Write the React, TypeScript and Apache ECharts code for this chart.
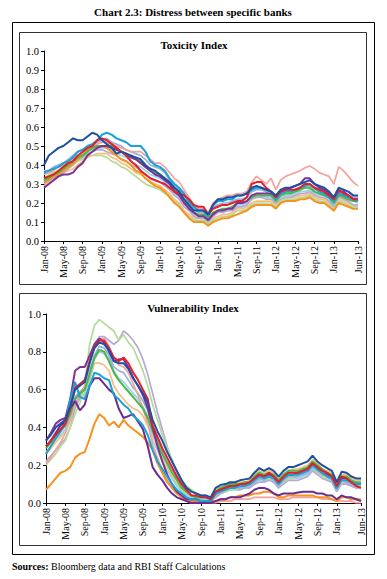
import React, { useEffect, useRef } from 'react';
import * as echarts from 'echarts';

const MONTHS = ['Jan', 'Feb', 'Mar', 'Apr', 'May', 'Jun', 'Jul', 'Aug', 'Sep', 'Oct', 'Nov', 'Dec'];
const YEARS = ['08', '09', '10', '11', '12', '13'];
const categories: string[] = YEARS.flatMap((y) => MONTHS.map((m) => `${m}-${y}`)).slice(0, 66);

const Y_TICKS_TOP = [0, 0.1, 0.2, 0.3, 0.4, 0.5, 0.6, 0.7, 0.8, 0.9, 1.0];
const Y_TICKS_BOTTOM = [0, 0.2, 0.4, 0.6, 0.8, 1.0];

// ---------- Toxicity Index ----------
const toxDarkBlue = [
  0.40, 0.45, 0.47, 0.49, 0.50, 0.52, 0.54, 0.53, 0.53, 0.55,
  0.57, 0.56, 0.53, 0.51, 0.49, 0.46, 0.47, 0.46, 0.45, 0.44,
  0.43, 0.40, 0.38, 0.37, 0.35, 0.33, 0.31, 0.28, 0.26, 0.22,
  0.19, 0.16, 0.16, 0.16, 0.14, 0.19, 0.22, 0.22, 0.23, 0.23,
  0.24, 0.24, 0.25, 0.28, 0.29, 0.28, 0.27, 0.26, 0.24, 0.27,
  0.28, 0.28, 0.29, 0.30, 0.31, 0.32, 0.30, 0.29, 0.28, 0.26,
  0.23, 0.28, 0.27, 0.26, 0.24, 0.24,
];
const toxRed = [
  0.33, 0.34, 0.35, 0.37, 0.39, 0.41, 0.42, 0.45, 0.47, 0.49,
  0.50, 0.53, 0.54, 0.53, 0.51, 0.49, 0.47, 0.45, 0.42, 0.40,
  0.37, 0.35, 0.33, 0.32, 0.31, 0.30, 0.28, 0.26, 0.25, 0.24,
  0.22, 0.19, 0.18, 0.18, 0.14, 0.17, 0.18, 0.19, 0.19, 0.20,
  0.21, 0.21, 0.23, 0.30, 0.31, 0.31, 0.28, 0.26, 0.23, 0.26,
  0.27, 0.27, 0.27, 0.28, 0.30, 0.30, 0.28, 0.27, 0.26, 0.24,
  0.22, 0.27, 0.25, 0.24, 0.22, 0.22,
];
const toxCyan = [
  0.36, 0.37, 0.38, 0.39, 0.41, 0.42, 0.44, 0.47, 0.48, 0.50,
  0.51, 0.53, 0.56, 0.57, 0.56, 0.54, 0.53, 0.52, 0.50, 0.50,
  0.50, 0.47, 0.42, 0.40, 0.39, 0.37, 0.33, 0.30, 0.28, 0.25,
  0.21, 0.18, 0.16, 0.16, 0.13, 0.19, 0.21, 0.21, 0.22, 0.22,
  0.24, 0.24, 0.25, 0.27, 0.28, 0.28, 0.27, 0.26, 0.22, 0.25,
  0.26, 0.26, 0.27, 0.28, 0.29, 0.30, 0.28, 0.26, 0.25, 0.23,
  0.21, 0.25, 0.24, 0.23, 0.22, 0.21,
];
const toxPurple = [
  0.28, 0.30, 0.32, 0.34, 0.35, 0.35, 0.36, 0.39, 0.41, 0.45,
  0.47, 0.49, 0.50, 0.50, 0.49, 0.48, 0.47, 0.46, 0.44, 0.43,
  0.41, 0.39, 0.37, 0.35, 0.34, 0.32, 0.30, 0.26, 0.24, 0.20,
  0.17, 0.15, 0.13, 0.13, 0.11, 0.14, 0.16, 0.16, 0.17, 0.17,
  0.20, 0.20, 0.21, 0.24, 0.25, 0.25, 0.25, 0.25, 0.23, 0.26,
  0.27, 0.28, 0.29, 0.30, 0.33, 0.33, 0.30, 0.28, 0.27, 0.25,
  0.22, 0.26, 0.26, 0.24, 0.22, 0.22,
];
const toxPink = [
  0.35, 0.36, 0.37, 0.39, 0.40, 0.42, 0.43, 0.45, 0.46, 0.48,
  0.49, 0.51, 0.52, 0.52, 0.51, 0.50, 0.49, 0.48, 0.47, 0.47,
  0.47, 0.45, 0.43, 0.41, 0.41, 0.39, 0.36, 0.33, 0.31, 0.27,
  0.23, 0.19, 0.17, 0.17, 0.15, 0.20, 0.22, 0.23, 0.24, 0.24,
  0.25, 0.25, 0.26, 0.31, 0.34, 0.32, 0.30, 0.33, 0.27, 0.32,
  0.34, 0.35, 0.36, 0.37, 0.385, 0.395, 0.38, 0.36, 0.35, 0.34,
  0.30, 0.39, 0.37, 0.34, 0.31, 0.29,
];
const toxGreen = [
  0.32, 0.33, 0.35, 0.36, 0.38, 0.40, 0.42, 0.44, 0.45, 0.47,
  0.49, 0.50, 0.50, 0.50, 0.50, 0.49, 0.47, 0.46, 0.44, 0.43,
  0.42, 0.39, 0.37, 0.36, 0.35, 0.33, 0.30, 0.27, 0.25, 0.21,
  0.18, 0.15, 0.14, 0.14, 0.12, 0.15, 0.16, 0.17, 0.17, 0.18,
  0.20, 0.20, 0.21, 0.23, 0.24, 0.24, 0.24, 0.24, 0.21, 0.24,
  0.25, 0.25, 0.26, 0.27, 0.28, 0.28, 0.26, 0.25, 0.24, 0.23,
  0.20, 0.24, 0.23, 0.22, 0.21, 0.21,
];
const toxOrange = [
  0.31, 0.32, 0.34, 0.35, 0.37, 0.39, 0.41, 0.43, 0.45, 0.48,
  0.49, 0.50, 0.50, 0.49, 0.47, 0.45, 0.43, 0.42, 0.40, 0.37,
  0.36, 0.33, 0.31, 0.29, 0.28, 0.26, 0.23, 0.20, 0.18, 0.15,
  0.12, 0.10, 0.10, 0.10, 0.08, 0.10, 0.11, 0.12, 0.12, 0.13,
  0.14, 0.15, 0.16, 0.18, 0.19, 0.19, 0.19, 0.19, 0.17, 0.20,
  0.21, 0.21, 0.21, 0.22, 0.22, 0.23, 0.21, 0.20, 0.20, 0.18,
  0.16, 0.20, 0.19, 0.18, 0.17, 0.17,
];
const toxLightGreen = [
  0.33, 0.35, 0.36, 0.37, 0.38, 0.39, 0.41, 0.42, 0.43, 0.45,
  0.45, 0.45, 0.45, 0.44, 0.42, 0.41, 0.39, 0.38, 0.36, 0.34,
  0.32, 0.30, 0.29, 0.28, 0.27, 0.25, 0.24, 0.21, 0.19, 0.15,
  0.13, 0.11, 0.11, 0.11, 0.09, 0.11, 0.12, 0.13, 0.13, 0.14,
  0.16, 0.16, 0.17, 0.19, 0.20, 0.20, 0.20, 0.20, 0.18, 0.21,
  0.22, 0.22, 0.22, 0.23, 0.23, 0.24, 0.22, 0.21, 0.21, 0.19,
  0.17, 0.21, 0.20, 0.19, 0.18, 0.18,
];
const toxLavender = [
  0.30, 0.32, 0.33, 0.35, 0.36, 0.38, 0.40, 0.42, 0.44, 0.46,
  0.47, 0.48, 0.48, 0.47, 0.46, 0.45, 0.43, 0.42, 0.40, 0.39,
  0.37, 0.35, 0.33, 0.32, 0.31, 0.29, 0.27, 0.24, 0.22, 0.18,
  0.16, 0.13, 0.12, 0.12, 0.10, 0.13, 0.15, 0.15, 0.16, 0.16,
  0.18, 0.18, 0.19, 0.22, 0.23, 0.23, 0.22, 0.22, 0.20, 0.22,
  0.23, 0.23, 0.24, 0.25, 0.25, 0.26, 0.24, 0.23, 0.23, 0.21,
  0.18, 0.23, 0.22, 0.21, 0.19, 0.19,
];
const toxLightBlue = [
  0.37, 0.37, 0.39, 0.40, 0.41, 0.43, 0.45, 0.47, 0.48, 0.49,
  0.50, 0.52, 0.53, 0.54, 0.52, 0.51, 0.50, 0.48, 0.47, 0.46,
  0.45, 0.43, 0.40, 0.39, 0.38, 0.36, 0.32, 0.29, 0.27, 0.24,
  0.20, 0.17, 0.15, 0.15, 0.13, 0.18, 0.19, 0.20, 0.20, 0.21,
  0.22, 0.22, 0.23, 0.26, 0.27, 0.27, 0.26, 0.24, 0.22, 0.25,
  0.26, 0.26, 0.26, 0.27, 0.29, 0.29, 0.27, 0.27, 0.26, 0.24,
  0.21, 0.26, 0.25, 0.24, 0.23, 0.23,
];
const toxLightCyan = [
  0.33, 0.34, 0.36, 0.37, 0.39, 0.40, 0.42, 0.44, 0.46, 0.48,
  0.48, 0.49, 0.49, 0.49, 0.48, 0.46, 0.45, 0.44, 0.42, 0.40,
  0.39, 0.37, 0.35, 0.34, 0.33, 0.31, 0.28, 0.25, 0.23, 0.20,
  0.17, 0.14, 0.13, 0.13, 0.11, 0.14, 0.15, 0.16, 0.16, 0.17,
  0.19, 0.19, 0.20, 0.23, 0.24, 0.24, 0.23, 0.23, 0.21, 0.23,
  0.24, 0.24, 0.25, 0.26, 0.26, 0.27, 0.25, 0.24, 0.24, 0.22,
  0.19, 0.24, 0.23, 0.22, 0.21, 0.20,
];
const toxLightOrange = [
  0.29, 0.31, 0.32, 0.34, 0.36, 0.37, 0.38, 0.40, 0.42, 0.44,
  0.45, 0.46, 0.46, 0.46, 0.44, 0.43, 0.41, 0.40, 0.38, 0.36,
  0.35, 0.33, 0.31, 0.30, 0.29, 0.27, 0.25, 0.22, 0.20, 0.16,
  0.14, 0.12, 0.12, 0.12, 0.09, 0.12, 0.13, 0.14, 0.14, 0.15,
  0.17, 0.17, 0.18, 0.20, 0.21, 0.21, 0.21, 0.21, 0.19, 0.22,
  0.23, 0.23, 0.23, 0.24, 0.24, 0.25, 0.23, 0.22, 0.22, 0.20,
  0.18, 0.22, 0.21, 0.20, 0.19, 0.18,
];

// ---------- Vulnerability Index ----------
const vulDarkBlue = [
  0.33, 0.36, 0.40, 0.42, 0.44, 0.51, 0.60, 0.62, 0.64, 0.74,
  0.82, 0.85, 0.84, 0.81, 0.75, 0.74, 0.74, 0.71, 0.66, 0.62,
  0.58, 0.53, 0.44, 0.38, 0.33, 0.27, 0.22, 0.17, 0.12, 0.08,
  0.06, 0.05, 0.04, 0.04, 0.03, 0.08, 0.095, 0.10, 0.11, 0.11,
  0.12, 0.125, 0.13, 0.16, 0.185, 0.17, 0.185, 0.17, 0.14, 0.17,
  0.19, 0.19, 0.20, 0.21, 0.22, 0.25, 0.22, 0.20, 0.185, 0.17,
  0.11, 0.165, 0.16, 0.14, 0.13, 0.13,
];
const vulRed = [
  0.30, 0.33, 0.36, 0.39, 0.42, 0.50, 0.61, 0.63, 0.65, 0.75,
  0.83, 0.86, 0.86, 0.82, 0.77, 0.75, 0.77, 0.74, 0.69, 0.65,
  0.60, 0.55, 0.41, 0.35, 0.29, 0.24, 0.19, 0.14, 0.10, 0.07,
  0.04, 0.04, 0.03, 0.03, 0.02, 0.06, 0.07, 0.08, 0.09, 0.09,
  0.10, 0.10, 0.11, 0.13, 0.15, 0.14, 0.16, 0.14, 0.11, 0.14,
  0.16, 0.16, 0.16, 0.17, 0.18, 0.21, 0.19, 0.17, 0.16, 0.14,
  0.09, 0.14, 0.13, 0.11, 0.09, 0.08,
];
const vulGreen = [
  0.29, 0.32, 0.35, 0.38, 0.41, 0.47, 0.55, 0.58, 0.60, 0.68,
  0.77, 0.81, 0.80, 0.75, 0.69, 0.65, 0.62, 0.59, 0.56, 0.53,
  0.50, 0.45, 0.38, 0.32, 0.26, 0.21, 0.16, 0.12, 0.08, 0.06,
  0.04, 0.03, 0.03, 0.03, 0.02, 0.06, 0.08, 0.09, 0.10, 0.10,
  0.10, 0.11, 0.11, 0.14, 0.16, 0.15, 0.16, 0.15, 0.12, 0.15,
  0.17, 0.17, 0.17, 0.18, 0.19, 0.22, 0.20, 0.18, 0.16, 0.15,
  0.09, 0.14, 0.14, 0.12, 0.11, 0.11,
];
const vulPurple = [
  0.33, 0.37, 0.42, 0.44, 0.45, 0.55, 0.70, 0.72, 0.72, 0.78,
  0.84, 0.87, 0.85, 0.80, 0.75, 0.76, 0.76, 0.72, 0.66, 0.62,
  0.57, 0.50, 0.40, 0.30, 0.22, 0.15, 0.10, 0.06, 0.04, 0.02,
  0.02, 0.02, 0.01, 0.01, 0.01, 0.05, 0.07, 0.08, 0.09, 0.09,
  0.09, 0.10, 0.10, 0.13, 0.15, 0.14, 0.15, 0.14, 0.11, 0.13,
  0.15, 0.15, 0.16, 0.17, 0.18, 0.21, 0.18, 0.16, 0.15, 0.14,
  0.08, 0.13, 0.13, 0.11, 0.10, 0.10,
];
const vulDarkPurple = [
  0.30, 0.33, 0.37, 0.41, 0.43, 0.50, 0.54, 0.49, 0.52, 0.62,
  0.66, 0.66, 0.63, 0.60, 0.58, 0.50, 0.45, 0.46, 0.47, 0.43,
  0.39, 0.30, 0.19, 0.15, 0.12, 0.08, 0.05, 0.03, 0.02, 0.01,
  0.00, 0.00, 0.00, 0.00, 0.00, 0.01, 0.02, 0.02, 0.03, 0.03,
  0.03, 0.04, 0.05, 0.07, 0.08, 0.08, 0.07, 0.05, 0.04, 0.05,
  0.05, 0.05, 0.055, 0.06, 0.06, 0.06, 0.05, 0.05, 0.04, 0.04,
  0.02, 0.04, 0.03, 0.03, 0.02, 0.01,
];
const vulCyan = [
  0.26, 0.30, 0.34, 0.38, 0.42, 0.55, 0.64, 0.56, 0.55, 0.62,
  0.69, 0.68, 0.66, 0.65, 0.57, 0.55, 0.52, 0.50, 0.46, 0.44,
  0.41, 0.36, 0.28, 0.22, 0.18, 0.14, 0.10, 0.07, 0.05, 0.03,
  0.02, 0.02, 0.01, 0.01, 0.01, 0.05, 0.06, 0.07, 0.08, 0.08,
  0.09, 0.09, 0.10, 0.12, 0.14, 0.13, 0.14, 0.13, 0.10, 0.13,
  0.15, 0.15, 0.15, 0.16, 0.17, 0.20, 0.18, 0.16, 0.14, 0.13,
  0.08, 0.12, 0.12, 0.11, 0.10, 0.10,
];
const vulOrange = [
  0.07, 0.10, 0.13, 0.16, 0.17, 0.19, 0.24, 0.26, 0.27, 0.34,
  0.42, 0.47, 0.45, 0.41, 0.43, 0.40, 0.44, 0.41, 0.39, 0.37,
  0.35, 0.32, 0.28, 0.21, 0.16, 0.11, 0.08, 0.05, 0.03, 0.02,
  0.01, 0.01, 0.01, 0.01, 0.01, 0.01, 0.02, 0.02, 0.03, 0.03,
  0.04, 0.04, 0.04, 0.05, 0.05, 0.06, 0.06, 0.05, 0.03, 0.03,
  0.04, 0.04, 0.04, 0.04, 0.04, 0.04, 0.03, 0.03, 0.03, 0.02,
  0.01, 0.03, 0.03, 0.02, 0.02, 0.02,
];
const vulLightBlue = [
  0.30, 0.33, 0.36, 0.39, 0.42, 0.48, 0.56, 0.59, 0.61, 0.70,
  0.78, 0.83, 0.82, 0.78, 0.72, 0.70, 0.69, 0.65, 0.61, 0.58,
  0.54, 0.49, 0.40, 0.34, 0.27, 0.22, 0.18, 0.13, 0.09, 0.06,
  0.04, 0.03, 0.03, 0.03, 0.02, 0.04, 0.06, 0.07, 0.08, 0.08,
  0.08, 0.09, 0.09, 0.11, 0.13, 0.12, 0.14, 0.12, 0.09, 0.12,
  0.14, 0.14, 0.14, 0.15, 0.16, 0.19, 0.17, 0.15, 0.14, 0.12,
  0.07, 0.12, 0.11, 0.10, 0.09, 0.09,
];
const vulPink = [
  0.21, 0.24, 0.28, 0.32, 0.37, 0.44, 0.52, 0.58, 0.62, 0.75,
  0.83, 0.87, 0.87, 0.83, 0.76, 0.73, 0.72, 0.69, 0.63, 0.57,
  0.50, 0.42, 0.31, 0.24, 0.17, 0.12, 0.08, 0.05, 0.03, 0.01,
  0.00, 0.00, 0.00, 0.00, 0.00, 0.00, 0.01, 0.01, 0.01, 0.02,
  0.02, 0.02, 0.02, 0.03, 0.03, 0.03, 0.03, 0.03, 0.02, 0.02,
  0.02, 0.03, 0.03, 0.03, 0.03, 0.03, 0.03, 0.02, 0.02, 0.02,
  0.01, 0.01, 0.01, 0.01, 0.00, 0.00,
];
const vulLightGreen = [
  0.20, 0.23, 0.26, 0.30, 0.33, 0.40, 0.47, 0.53, 0.62, 0.84,
  0.94, 0.97, 0.95, 0.93, 0.91, 0.86, 0.89, 0.85, 0.82, 0.76,
  0.70, 0.62, 0.52, 0.44, 0.36, 0.29, 0.23, 0.17, 0.12, 0.09,
  0.07, 0.05, 0.04, 0.04, 0.02, 0.04, 0.06, 0.06, 0.07, 0.07,
  0.08, 0.09, 0.09, 0.11, 0.13, 0.12, 0.13, 0.12, 0.09, 0.11,
  0.13, 0.13, 0.14, 0.15, 0.16, 0.19, 0.16, 0.14, 0.13, 0.12,
  0.07, 0.11, 0.11, 0.10, 0.09, 0.09,
];
const vulLavender = [
  0.22, 0.25, 0.28, 0.31, 0.34, 0.40, 0.50, 0.56, 0.62, 0.74,
  0.84, 0.88, 0.88, 0.86, 0.84, 0.86, 0.91, 0.89, 0.86, 0.82,
  0.76, 0.68, 0.58, 0.48, 0.39, 0.30, 0.22, 0.16, 0.11, 0.08,
  0.06, 0.05, 0.04, 0.04, 0.02, 0.03, 0.05, 0.06, 0.07, 0.07,
  0.07, 0.08, 0.08, 0.10, 0.11, 0.11, 0.12, 0.11, 0.08, 0.10,
  0.12, 0.12, 0.12, 0.13, 0.14, 0.17, 0.15, 0.13, 0.12, 0.11,
  0.06, 0.10, 0.10, 0.09, 0.08, 0.08,
];
const vulLightCyan = [
  0.27, 0.30, 0.34, 0.36, 0.39, 0.45, 0.53, 0.56, 0.58, 0.66,
  0.76, 0.80, 0.79, 0.76, 0.70, 0.66, 0.64, 0.61, 0.58, 0.55,
  0.51, 0.46, 0.33, 0.28, 0.22, 0.17, 0.13, 0.09, 0.06, 0.04,
  0.03, 0.02, 0.02, 0.02, 0.01, 0.03, 0.05, 0.06, 0.07, 0.07,
  0.07, 0.08, 0.08, 0.10, 0.12, 0.11, 0.13, 0.11, 0.08, 0.11,
  0.13, 0.13, 0.13, 0.14, 0.15, 0.18, 0.16, 0.14, 0.13, 0.11,
  0.06, 0.11, 0.10, 0.09, 0.08, 0.08,
];
const vulLightOrange = [
  0.26, 0.29, 0.32, 0.35, 0.38, 0.44, 0.52, 0.55, 0.57, 0.65,
  0.74, 0.74, 0.73, 0.70, 0.62, 0.58, 0.55, 0.52, 0.50, 0.49,
  0.46, 0.41, 0.36, 0.30, 0.24, 0.19, 0.14, 0.10, 0.07, 0.05,
  0.03, 0.03, 0.02, 0.02, 0.01, 0.07, 0.08, 0.09, 0.10, 0.10,
  0.11, 0.11, 0.12, 0.15, 0.17, 0.16, 0.17, 0.16, 0.13, 0.15,
  0.17, 0.18, 0.18, 0.19, 0.20, 0.23, 0.21, 0.18, 0.17, 0.16,
  0.10, 0.15, 0.15, 0.13, 0.12, 0.12,
];

const COLORS: Record<string, string> = {
  darkBlue: '#1f4fa0',
  red: '#e3202a',
  green: '#4cb848',
  purple: '#7d3396',
  darkPurple: '#6a2c90',
  cyan: '#17a3d3',
  orange: '#f7921e',
  lightBlue: '#97b0dd',
  pink: '#f4a29d',
  lightGreen: '#b3db98',
  lavender: '#b9a7d4',
  lightCyan: '#95d4ea',
  lightOrange: '#fbbd7e',
};
const PALE = ['lightBlue', 'pink', 'lightGreen', 'lavender', 'lightCyan', 'lightOrange'];

const toxSeries: [string, number[]][] = [
  ['lightOrange', toxLightOrange],
  ['lightCyan', toxLightCyan],
  ['lavender', toxLavender],
  ['lightGreen', toxLightGreen],
  ['lightBlue', toxLightBlue],
  ['pink', toxPink],
  ['orange', toxOrange],
  ['green', toxGreen],
  ['purple', toxPurple],
  ['cyan', toxCyan],
  ['red', toxRed],
  ['darkBlue', toxDarkBlue],
];
const vulSeries: [string, number[]][] = [
  ['lightOrange', vulLightOrange],
  ['lightCyan', vulLightCyan],
  ['lavender', vulLavender],
  ['lightGreen', vulLightGreen],
  ['lightBlue', vulLightBlue],
  ['pink', vulPink],
  ['orange', vulOrange],
  ['green', vulGreen],
  ['darkPurple', vulDarkPurple],
  ['purple', vulPurple],
  ['cyan', vulCyan],
  ['red', vulRed],
  ['darkBlue', vulDarkBlue],
];

const FONT = '"Liberation Serif", "DejaVu Serif", serif';
const LAST = categories.length - 1;
const showIdx = (i: number) => (i % 4 === 0 && i <= 60) || i === LAST;

export default function App() {
  const ref = useRef<HTMLDivElement>(null);
  useEffect(() => {
    if (!ref.current) return;
    const chart = echarts.init(ref.current, undefined, { renderer: 'svg' });
    const xAxis = (gi: number) => ({
      gridIndex: gi,
      type: 'category',
      data: categories,
      boundaryGap: false,
      axisLine: { lineStyle: { color: '#000', width: 1 } },
      axisTick: { interval: (i: number) => showIdx(i), length: 3, lineStyle: { color: '#000' } },
      axisLabel: {
        interval: (i: number) => showIdx(i),
        rotate: 90,
        fontSize: 10,
        fontFamily: FONT,
        color: '#000',
        margin: 5,
      },
      splitLine: { show: false },
    });
    const yAxis = (gi: number, ticks: number[]) => ({
      gridIndex: gi,
      type: 'value',
      min: ticks[0],
      max: ticks[ticks.length - 1],
      interval: ticks[1] - ticks[0],
      axisLine: { show: true, lineStyle: { color: '#000', width: 1 } },
      axisTick: { show: true, length: 3, lineStyle: { color: '#000' } },
      axisLabel: {
        fontSize: 10.5,
        fontFamily: FONT,
        color: '#000',
        margin: 5,
        formatter: (v: number) => v.toFixed(1),
      },
      splitLine: { show: false },
    });
    const mk = (list: [string, number[]][], gi: number) =>
      list.map(([key, data], k) => ({
        type: 'line',
        name: key,
        xAxisIndex: gi,
        yAxisIndex: gi,
        data,
        symbol: 'none',
        showSymbol: false,
        z: 2 + k * 0.01,
        lineStyle: { color: COLORS[key], width: PALE.includes(key) ? 1.7 : 2 },
        itemStyle: { color: COLORS[key] },
      }));

    chart.setOption({
      animation: false,
      backgroundColor: '#fff',
      grid: [
        { left: 44, top: 51, width: 314, height: 190 },
        { left: 46, top: 314, width: 315, height: 189 },
      ],
      xAxis: [xAxis(0), xAxis(1)],
      yAxis: [yAxis(0, Y_TICKS_TOP), yAxis(1, Y_TICKS_BOTTOM)],
      series: [...mk(toxSeries, 0), ...mk(vulSeries, 1)],
      graphic: [
        {
          type: 'rect',
          z: 0,
          shape: { x: 12.5, y: 22.5, width: 362, height: 532 },
          style: { fill: 'none', stroke: '#000', lineWidth: 1 },
        },
        {
          type: 'rect',
          z: 0,
          shape: { x: 19.5, y: 32.5, width: 347, height: 252 },
          style: { fill: 'none', stroke: '#333', lineWidth: 1 },
        },
        {
          type: 'rect',
          z: 0,
          shape: { x: 19.5, y: 293.5, width: 347, height: 252 },
          style: { fill: 'none', stroke: '#333', lineWidth: 1 },
        },
        {
          type: 'text',
          x: 193,
          y: 12,
          style: {
            text: 'Chart 2.3: Distress between specific banks',
            font: `bold 11px ${FONT}`,
            fill: '#000',
            textAlign: 'center',
            textVerticalAlign: 'middle',
          },
        },
        {
          type: 'text',
          x: 194,
          y: 45,
          style: {
            text: 'Toxicity Index',
            font: `bold 11px ${FONT}`,
            fill: '#000',
            textAlign: 'center',
            textVerticalAlign: 'middle',
          },
        },
        {
          type: 'text',
          x: 193,
          y: 308,
          style: {
            text: 'Vulnerability Index',
            font: `bold 11px ${FONT}`,
            fill: '#000',
            textAlign: 'center',
            textVerticalAlign: 'middle',
          },
        },
        {
          type: 'text',
          x: 12,
          y: 566,
          style: {
            text: '{b|Sources:} Bloomberg data and RBI Staff Calculations',
            font: `10px ${FONT}`,
            fill: '#000',
            textVerticalAlign: 'middle',
            rich: { b: { fontWeight: 'bold', fontSize: 10, fontFamily: FONT } },
          },
        },
      ],
    });
    return () => chart.dispose();
  }, []);
  return (
    <div style={{ position: 'fixed', left: 0, top: 0, width: 387, height: 579, background: '#fff' }}>
      <div ref={ref} style={{ width: 387, height: 579 }} />
    </div>
  );
}
